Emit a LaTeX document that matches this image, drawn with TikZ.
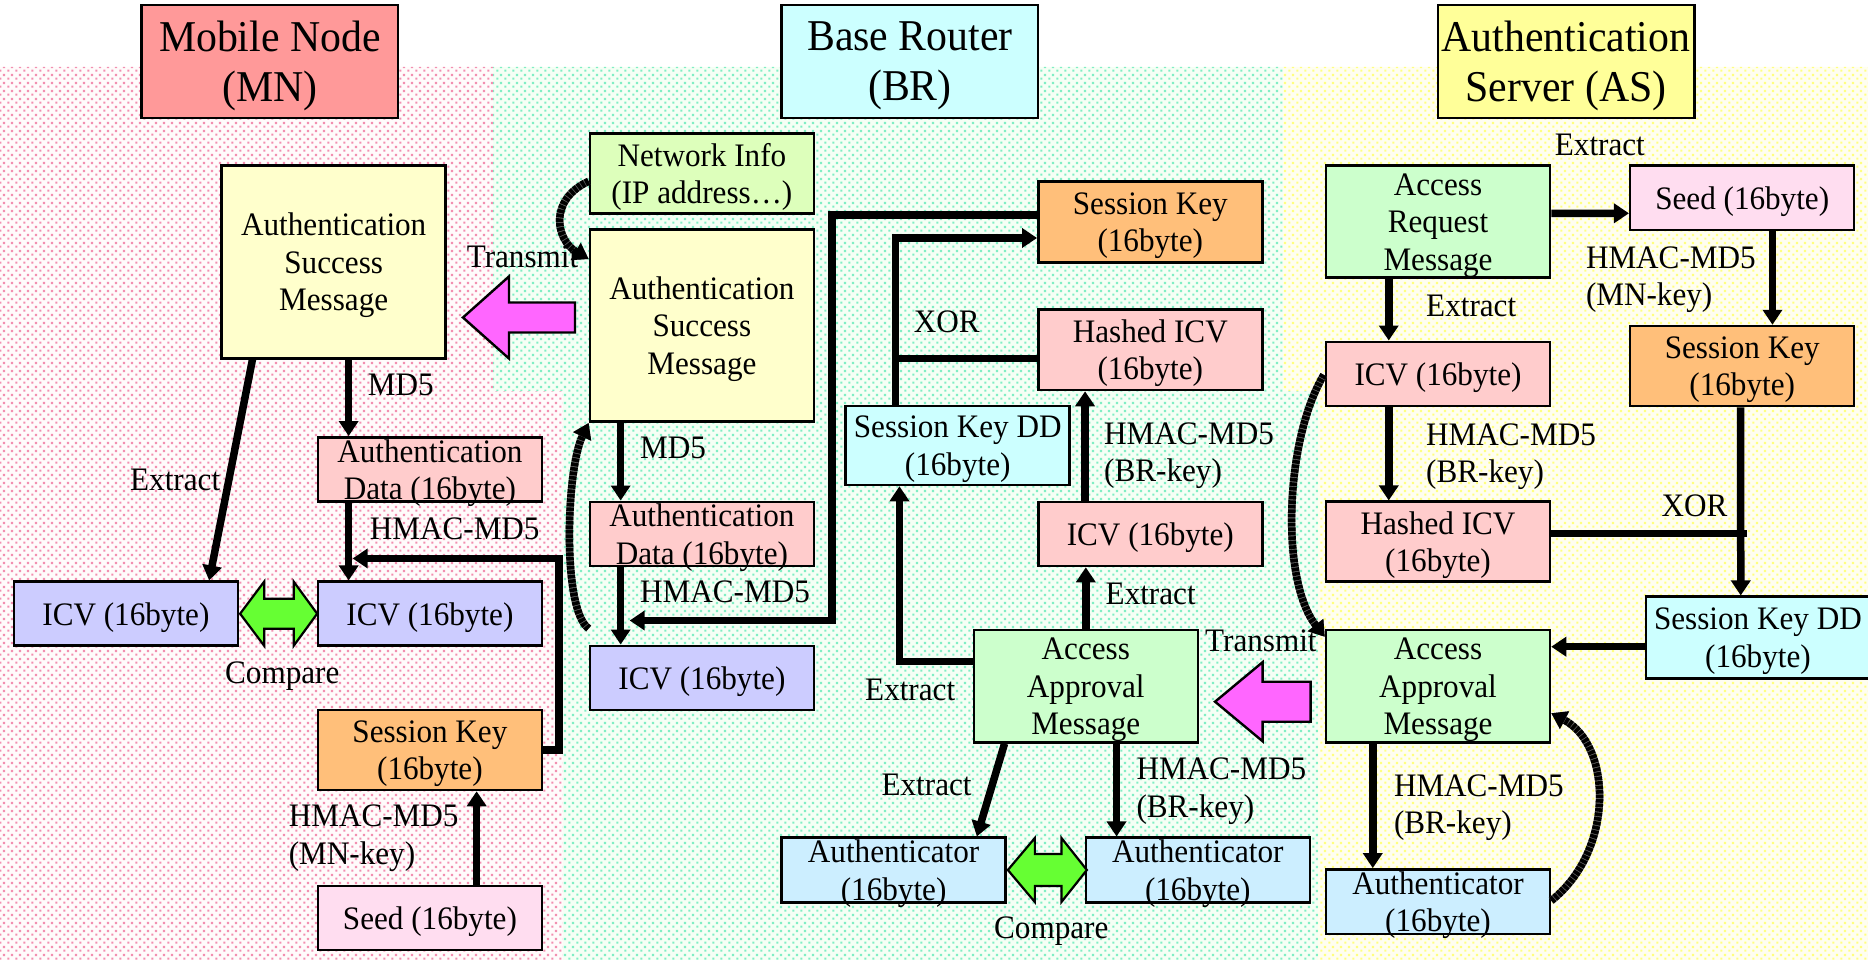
\documentclass[tikz,border=0pt]{standalone}
\usepackage{fontspec}
\setmainfont{Liberation Serif}[FakeStretch=0.95]
\usetikzlibrary{arrows.meta,calc,patterns.meta}

% staggered dot raster for the three column backgrounds
\pgfdeclarepattern{
  name=coldots,
  type=uncolored,
  bottom left={\pgfpoint{0pt}{0pt}},
  top right={\pgfpoint{8pt}{8pt}},
  tile size={\pgfpoint{8pt}{8pt}},
  code={
    \pgfpathrectangle{\pgfpoint{0.4pt}{0.4pt}}{\pgfpoint{2.4pt}{2.4pt}}
    \pgfpathrectangle{\pgfpoint{4.4pt}{4.4pt}}{\pgfpoint{2.4pt}{2.4pt}}
    \pgfusepath{fill}
  }
}

\definecolor{cMNh}{HTML}{FF9999}
\definecolor{cBRh}{HTML}{CCFFFF}
\definecolor{cASh}{HTML}{FFFF99}
\definecolor{cMsg}{HTML}{FFFFCC}
\definecolor{cRose}{HTML}{FFCCCC}
\definecolor{cLav}{HTML}{CCCCFF}
\definecolor{cKey}{HTML}{FFBF7A}
\definecolor{cSeed}{HTML}{FFDDF0}
\definecolor{cNet}{HTML}{DDFFBB}
\definecolor{cAcc}{HTML}{CCFFCC}
\definecolor{cCyan}{HTML}{CCFFFF}
\definecolor{cAuth}{HTML}{CCEEFF}
\definecolor{cMagenta}{HTML}{FF66FF}
\definecolor{cLime}{HTML}{66FF33}
\definecolor{dotPink}{HTML}{F28FB0}
\definecolor{dotGreen}{HTML}{80EEC4}
\definecolor{dotYellow}{HTML}{FFFF80}

\newcommand\diagbody{\fontsize{32.8}{37.5}\selectfont}
\newcommand\diaghead{\fontsize{44}{50}\selectfont}

\tikzset{
  box/.style={draw, line width=2.5pt, inner sep=0pt, align=center,
    text depth=0pt, font=\diagbody, minimum width=224pt},
  head/.style={box, font=\diaghead, minimum width=256.5pt, minimum height=113pt},
  lbl/.style={inner sep=0pt, anchor=base west, align=left, font=\diagbody},
  arr/.style={line width=7.5pt, -{Triangle[length=15pt,width=19pt]}},
  link/.style={line width=7.5pt},
  curv/.style={line width=7.5pt, -{Triangle[length=15pt,width=19pt]},
    preaction={draw, line width=7.5pt, black!60},
    dash pattern=on 3.6pt off 0.9pt},
  pinkarrow/.style={draw, line width=2.4pt, fill=cMagenta},
  greenarrow/.style={draw, line width=2.2pt, fill=cLime},
  region/.style={pattern={coldots}},
}

\begin{document}
\begin{tikzpicture}[x=1pt,y=-1pt]
\useasboundingbox (0,0) rectangle (1868,960);

% column backgrounds
\fill[pink!7] (0,67) -- (493,67) -- (493,391) -- (563,391) -- (563,960) -- (0,960) -- cycle;
\fill[region, pattern color=dotPink] (0,67) -- (493,67) -- (493,391) -- (563,391) -- (563,960) -- (0,960) -- cycle;
\fill[green!4] (493,67) -- (1283,67) -- (1283,391) -- (1318,391) -- (1318,960) -- (563,960) -- (563,391) -- (493,391) -- cycle;
\fill[region, pattern color=dotGreen] (493,67) -- (1283,67) -- (1283,391) -- (1318,391) -- (1318,960) -- (563,960) -- (563,391) -- (493,391) -- cycle;
\fill[yellow!6] (1283,67) -- (1868,67) -- (1868,960) -- (1318,960) -- (1318,391) -- (1283,391) -- cycle;
\fill[region, pattern color=dotYellow] (1283,67) -- (1868,67) -- (1868,960) -- (1318,960) -- (1318,391) -- (1283,391) -- cycle;

% column headers
\node[head, fill=cMNh] (hMN) at (269.9,61.5) {Mobile Node\\(MN)};
\node[head, fill=cBRh] (hBR) at (909.9,61.5) {Base Router\\(BR)};
\node[head, fill=cASh] (hAS) at (1566,61.5) {Authentication\\Server (AS)};

% mobile node
\node[box, fill=cMsg, minimum height=192.6pt] (mnASM) at (333.7,262) {Authentication\\Success\\Message};
\node[box, fill=cRose, minimum height=64.4pt] (mnAD) at (429.9,469.5) {Authentication\\Data (16byte)};
\node[box, fill=cLav, minimum height=64pt] (mnICVl) at (125.9,613.7) {ICV (16byte)};
\node[box, fill=cLav, minimum height=64pt] (mnICVr) at (429.9,613.7) {ICV (16byte)};
\node[box, fill=cKey, minimum height=80pt] (mnSK) at (429.9,750) {Session Key\\(16byte)};
\node[box, fill=cSeed, minimum height=64pt] (mnSeed) at (429.9,918) {Seed (16byte)};

% base router
\node[box, fill=cNet, minimum height=80pt] (brNet) at (701.9,173.3) {Network Info\\(IP address…)};
\node[box, fill=cMsg, minimum height=192.4pt] (brASM) at (701.9,325.5) {Authentication\\Success\\Message};
\node[box, fill=cRose, minimum height=64.3pt] (brAD) at (701.9,533.9) {Authentication\\Data (16byte)};
\node[box, fill=cLav, minimum height=64.3pt] (brICV) at (701.9,677.9) {ICV (16byte)};
\node[box, fill=cKey, minimum height=80.6pt] (brSK) at (1150.3,222) {Session Key\\(16byte)};
\node[box, fill=cRose, minimum height=80.7pt] (brHICV) at (1150.3,349.7) {Hashed ICV\\(16byte)};
\node[box, fill=cCyan, minimum height=79pt] (brSKDD) at (957.7,445.5) {Session Key DD\\(16byte)};
\node[box, fill=cRose, minimum height=64.3pt] (brICVp) at (1150.3,533.9) {ICV (16byte)};
\node[box, fill=cAcc, minimum height=112.3pt] (brAA) at (1085.8,686.2) {Access\\Approval\\Message};
\node[box, fill=cAuth, minimum height=64.6pt] (brAuL) at (893.6,870) {Authenticator\\(16byte)};
\node[box, fill=cAuth, minimum height=64.6pt] (brAuR) at (1197.8,870) {Authenticator\\(16byte)};

% authentication server
\node[box, fill=cAcc, minimum height=112pt] (asAR) at (1438,221.7) {Access\\Request\\Message};
\node[box, fill=cSeed, minimum height=64.3pt] (asSeed) at (1742.2,197.9) {Seed (16byte)};
\node[box, fill=cRose, minimum height=64.3pt] (asICV) at (1438,373.9) {ICV (16byte)};
\node[box, fill=cKey, minimum height=80pt] (asSK) at (1742.2,366) {Session Key\\(16byte)};
\node[box, fill=cRose, minimum height=80pt] (asHICV) at (1438,541.7) {Hashed ICV\\(16byte)};
\node[box, fill=cCyan, minimum height=81.6pt] (asSKDD) at (1757.9,637.5) {Session Key DD\\(16byte)};
\node[box, fill=cAcc, minimum height=112.3pt] (asAA) at (1438,686.2) {Access\\Approval\\Message};
\node[box, fill=cAuth, minimum height=64.7pt] (asAu) at (1438,901.7) {Authenticator\\(16byte)};

% transmit arrows
\coordinate (trMN) at ($(mnASM.east)+(16,55.5)$);
\draw[pinkarrow] (trMN) -- ++(46,-41) -- ++(0,26) -- ++(66,0) -- ++(0,30) -- ++(-66,0) -- ++(0,26) -- cycle;
\coordinate (trBR) at ($(brAA.east)+(16,15.5)$);
\draw[pinkarrow] (trBR) -- ++(47.5,-39.5) -- ++(0,19.5) -- ++(48,0) -- ++(0,40) -- ++(-48,0) -- ++(0,19.5) -- cycle;

% compare arrows
\coordinate (cmpMN) at ($(mnICVl.east)+(1,0)$);
\draw[greenarrow] (cmpMN) -- ++(24,-32) -- ++(0,17) -- ++(29.6,0) -- ++(0,-17) -- ++(23.4,32)
  -- ++(-23.4,32) -- ++(0,-17) -- ++(-29.6,0) -- ++(0,17) -- cycle;
\coordinate (cmpBR) at ($(brAuL.east)+(1,0)$);
\draw[greenarrow] (cmpBR) -- ++(27,-32) -- ++(0,16) -- ++(26.6,0) -- ++(0,-16) -- ++(25.4,32)
  -- ++(-25.4,32) -- ++(0,-16) -- ++(-26.6,0) -- ++(0,16) -- cycle;

% arrow columns
\coordinate (mnCol) at ($(mnAD.north west)+(32,0)$);
\coordinate (brCol) at ($(brAD.north west)+(32,0)$);
\coordinate (brColR) at ($(brAuR.north west)+(32,0)$);

% mobile node connectors
\draw[arr] (mnCol |- mnASM.south) -- (mnCol);
\draw[arr] ($(mnAD.south west)+(32,0)$) -- ($(mnICVr.north west)+(32,0)$);
\draw[arr] ($(mnSeed.north west)+(160,0)$) -- ($(mnSK.south west)+(160,0)$);
\draw[arr] (mnSK.east) -- ++(16,0) |- ($(mnICVr.north west)+(36,-22)$);
\draw[arr] ($(mnASM.south west)+(32,0)$) -- ($(mnICVl.north east)+(-30,0)$);

% base router connectors
\draw[curv] ($(brNet.west)+(0,8)$) .. controls (548,200) and (556,240) .. ($(brASM.north west)+(0,31)$);
\draw[curv] ($(brICV.north west)+(0,-16)$) .. controls (562,610) and (566,470) .. (brASM.south west);
\draw[arr] (brCol |- brASM.south) -- (brCol);
\draw[arr] ($(brAD.south west)+(32,0)$) -- ($(brICV.north west)+(32,0)$);
\draw[arr] ($(brSK.west)+(0,-7)$) -| ($(brICV.north east)+(17,-24)$) -- ($(brICV.north west)+(41,-24)$);
\draw[arr] ($(brSKDD.north west)+(51,0)$) |- ($(brSK.west)+(0,16)$);
\draw[link] ($(brHICV.west)+(0,9)$) -- ++(-145,0);
\draw[arr] ($(brICVp.north west)+(48,0)$) -- ($(brHICV.south west)+(48,0)$);
\draw[arr] (brAA.north) -- (brAA.north |- brICVp.south);
\draw[arr] ($(brAA.west)+(0,-24.5)$) -| ($(brSKDD.south west)+(55,0)$);
\draw[arr] ($(brAA.south west)+(32,0)$) -- ($(brAuL.north east)+(-30,0)$);
\draw[arr] (brColR |- brAA.south) -- (brColR);

% authentication server connectors
\draw[arr] ($(asAR.east)+(0,-8.4)$) -- ($(asSeed.west)+(0,15.4)$);
\draw[arr] ($(asAR.south west)+(64,0)$) -- ($(asICV.north west)+(64,0)$);
\draw[arr] ($(asSeed.south west)+(143.5,0)$) -- ($(asSK.north west)+(143.5,0)$);
\draw[arr] ($(asICV.south west)+(64,0)$) -- ($(asHICV.north west)+(64,0)$);
\draw[arr] ($(asSK.south west)+(111.7,0)$) -- ($(asSKDD.north west)+(96.1,0)$);
\draw[link] ($(asHICV.east)+(0,-8.4)$) -- ++(195.7,0);
\draw[arr] ($(asSKDD.west)+(0,9.2)$) -- ($(asAA.east)+(0,-39.5)$);
\draw[curv] ($(asICV.west)+(-1,1)$) .. controls (1285,440) and (1280,580) .. ($(asAA.north west)+(0,8)$);
\draw[arr] ($(asAA.south west)+(48,0)$) -- ($(asAu.north west)+(48,0)$);
\draw[curv] ($(asAu.east)+(0,-1)$) .. controls (1615,850) and (1612,745) .. ($(asAA.east)+(0,27)$);

% labels (two-line labels are placed by the baseline of their last line)
\node[lbl] (lTrMN) at (466.6,267) {Transmit};
\node[lbl] (lMD5a) at (367.7,395) {MD5};
\node[lbl] (lExMN) at (130,490) {Extract};
\node[lbl] (lHmMN) at (369.7,539.3) {HMAC-MD5};
\node[lbl] (lCmpMN) at (225,683) {Compare};
\node[lbl] (lHmMNk) at (288.6,864.2) {HMAC-MD5\\(MN-key)};

\node[lbl] (lMD5b) at (640,458.5) {MD5};
\node[lbl] (lHmBR) at (640,602) {HMAC-MD5};
\node[lbl] (lXorBR) at (913.6,332) {XOR};
\node[lbl] (lHmBRk) at (1104,481.5) {HMAC-MD5\\(BR-key)};
\node[lbl] (lExBR1) at (1105.5,604) {Extract};
\node[lbl] (lExBR2) at (865,700) {Extract};
\node[lbl] (lTrBR) at (1205,651.7) {Transmit};
\node[lbl] (lExBR3) at (881.4,795.5) {Extract};
\node[lbl] (lHmBRk2) at (1136.3,817) {HMAC-MD5\\(BR-key)};
\node[lbl] (lCmpBR) at (994,938.5) {Compare};

\node[lbl] (lExAS1) at (1554.7,156) {Extract};
\node[lbl] (lExAS2) at (1426,316.5) {Extract};
\node[lbl] (lHmASm) at (1585.8,305.5) {HMAC-MD5\\(MN-key)};
\node[lbl] (lHmASb) at (1426,482.5) {HMAC-MD5\\(BR-key)};
\node[lbl] (lXorAS) at (1661.4,516) {XOR};
\node[lbl] (lHmASb2) at (1393.8,833.5) {HMAC-MD5\\(BR-key)};
\end{tikzpicture}
\end{document}
